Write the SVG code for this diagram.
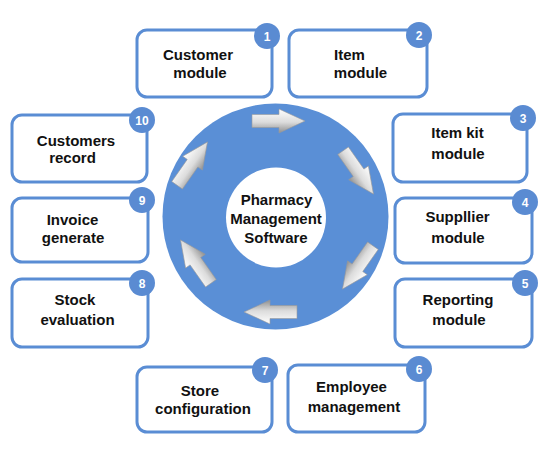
<svg xmlns="http://www.w3.org/2000/svg" width="557" height="464" viewBox="0 0 557 464">
<style>
.box{fill:#ffffff;stroke:#5a8dd4;stroke-width:3}
.badge{fill:#5a8bd2}
.bn{font-family:"Liberation Sans",Arial,sans-serif;font-weight:bold;font-size:12px;fill:#ffffff;text-anchor:middle}
.lbl{font-family:"Liberation Sans",Arial,sans-serif;font-weight:bold;font-size:15px;fill:#111111;text-anchor:middle}
.arr{fill:url(#ag);stroke:#9a9a9a;stroke-width:0.6}
</style>
<defs>
<linearGradient id="ag" x1="0" y1="0" x2="0" y2="1">
<stop offset="0" stop-color="#ffffff"/>
<stop offset="0.55" stop-color="#dcdcdc"/>
<stop offset="1" stop-color="#8f8f8f"/>
</linearGradient>
<path id="arrow" d="M-26,-6.5 L1,-6.5 L1,-12 L27,0 L1,12 L1,6.5 L-26,6.5 Z"/>
</defs>
<rect width="557" height="464" fill="#ffffff"/>

<g id="hub">
<circle cx="275.5" cy="216.5" r="113" fill="#5a8fd6"/>
<circle cx="276" cy="217.5" r="50" fill="#ffffff"/>
<text class="lbl" x="276.5" y="205">Pharmacy</text>
<text class="lbl" x="276" y="224">Management</text>
<text class="lbl" x="276" y="243">Software</text>
</g>

<g id="connectors">
<use href="#arrow" class="arr" transform="translate(278,121)"/>
<use href="#arrow" class="arr" transform="translate(358,172) rotate(55)"/>
<use href="#arrow" class="arr" transform="translate(358,267) rotate(125)"/>
<use href="#arrow" class="arr" transform="translate(271,312) rotate(180)"/>
<use href="#arrow" class="arr" transform="translate(196,262) rotate(235)"/>
<use href="#arrow" class="arr" transform="translate(192,164) rotate(-55)"/>
</g>

<g id="node1">
<rect class="box" x="137" y="30" width="135" height="67" rx="10"/>
<text class="lbl" x="198" y="60">Customer</text>
<text class="lbl" x="200" y="78">module</text>
<circle class="badge" cx="267" cy="36" r="13"/><text class="bn" x="267" y="40.5">1</text>
</g>
<g id="node2">
<rect class="box" x="289" y="30" width="138" height="67" rx="10"/>
<text class="lbl" x="349.5" y="60">Item</text>
<text class="lbl" x="360.5" y="78">module</text>
<circle class="badge" cx="419" cy="35" r="13"/><text class="bn" x="419" y="39.5">2</text>
</g>
<g id="node3">
<rect class="box" x="393" y="114" width="134" height="68" rx="10"/>
<text class="lbl" x="457.5" y="138">Item kit</text>
<text class="lbl" x="458" y="159">module</text>
<circle class="badge" cx="523" cy="118" r="13"/><text class="bn" x="523" y="122.5">3</text>
</g>
<g id="node4">
<rect class="box" x="395" y="198" width="137" height="65" rx="10"/>
<text class="lbl" x="457.5" y="222">Suppllier</text>
<text class="lbl" x="458" y="243">module</text>
<circle class="badge" cx="525" cy="202" r="13"/><text class="bn" x="525" y="206.5">4</text>
</g>
<g id="node5">
<rect class="box" x="395" y="279" width="137" height="68" rx="10"/>
<text class="lbl" x="458" y="305">Reporting</text>
<text class="lbl" x="459" y="325">module</text>
<circle class="badge" cx="525" cy="283" r="13"/><text class="bn" x="525" y="287.5">5</text>
</g>
<g id="node6">
<rect class="box" x="288" y="365" width="137" height="67" rx="10"/>
<text class="lbl" x="351.5" y="392">Employee</text>
<text class="lbl" x="354" y="412">management</text>
<circle class="badge" cx="419" cy="369" r="13"/><text class="bn" x="419" y="373.5">6</text>
</g>
<g id="node7">
<rect class="box" x="137" y="367" width="135" height="65" rx="10"/>
<text class="lbl" x="200" y="396">Store</text>
<text class="lbl" x="203" y="414">configuration</text>
<circle class="badge" cx="265" cy="370" r="13"/><text class="bn" x="265" y="374.5">7</text>
</g>
<g id="node8">
<rect class="box" x="12" y="279" width="136" height="68" rx="10"/>
<text class="lbl" x="75" y="305">Stock</text>
<text class="lbl" x="77.5" y="325">evaluation</text>
<circle class="badge" cx="142" cy="283" r="13"/><text class="bn" x="142" y="287.5">8</text>
</g>
<g id="node9">
<rect class="box" x="12" y="198" width="136" height="64" rx="10"/>
<text class="lbl" x="72.5" y="225">Invoice</text>
<text class="lbl" x="73" y="243">generate</text>
<circle class="badge" cx="142" cy="200" r="13"/><text class="bn" x="142" y="204.5">9</text>
</g>
<g id="node10">
<rect class="box" x="12" y="115" width="135" height="67" rx="10"/>
<text class="lbl" x="76" y="145.5">Customers</text>
<text class="lbl" x="72.5" y="163">record</text>
<circle class="badge" cx="142" cy="120" r="13"/><text class="bn" x="142" y="124.5">10</text>
</g>
</svg>
